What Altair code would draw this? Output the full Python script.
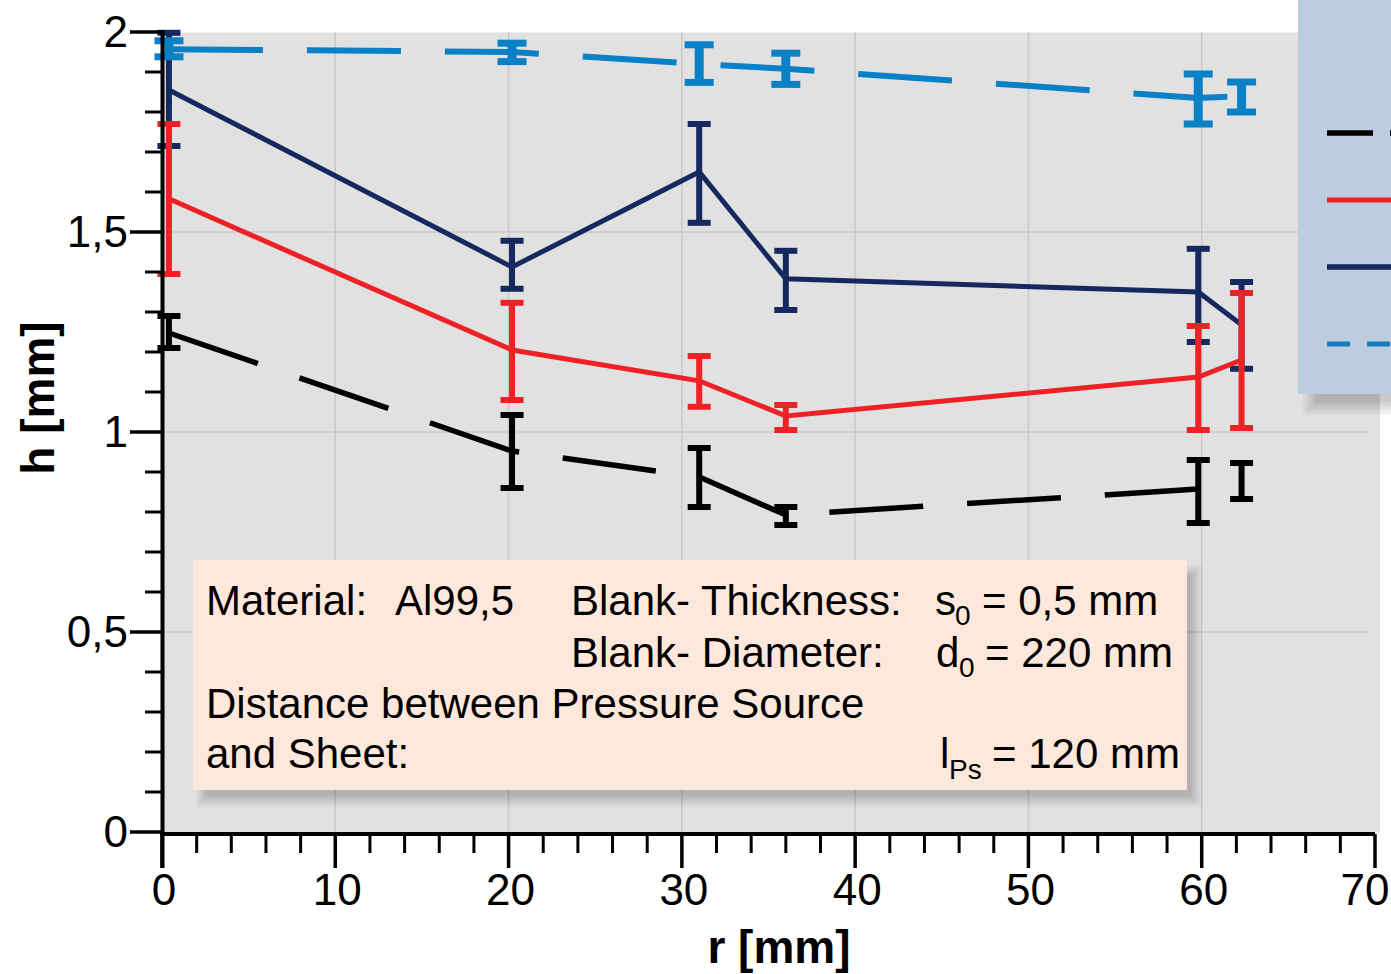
import altair as alt
import pandas as pd

# ---------------- data ----------------
r_vals = [0.4, 20.2, 31.0, 36.0, 59.8, 62.3]

black_h = [1.2475, 0.9525, 0.8875, 0.7925, 0.8575, 0.8775]
black_lo = [1.21, 0.86, 0.8125, 0.7675, 0.7725, 0.8325]
black_hi = [1.29, 1.0425, 0.96, 0.8125, 0.93, 0.9225]

red_h = [1.583, 1.205, 1.128, 1.04, 1.1375, 1.18]
red_lo = [1.395, 1.08, 1.063, 1.005, 1.005, 1.01]
red_hi = [1.77, 1.323, 1.19, 1.0675, 1.265, 1.3475]

navy_h = [1.855, 1.4125, 1.65, 1.383, 1.35, 1.268]
navy_lo = [1.715, 1.358, 1.523, 1.305, 1.225, 1.158]
navy_hi = [1.998, 1.478, 1.77, 1.453, 1.458, 1.375]

blue_h = [1.957, 1.95, 1.92, 1.908, 1.835, 1.84]
blue_lo = [1.938, 1.926, 1.874, 1.869, 1.77, 1.80]
blue_hi = [1.978, 1.972, 1.968, 1.947, 1.895, 1.875]

x_major = [0, 10, 20, 30, 40, 50, 60, 70]
x_labels = ["0", "10", "20", "30", "40", "50", "60", "70"]
x_minor = [v for v in range(2, 70, 2) if v % 10 != 0]
y_major = [0, 0.5, 1, 1.5, 2]
y_labels = ["0", "0,5", "1", "1,5", "2"]
y_minor = [round(i * 0.1, 1) for i in range(1, 20) if i % 5 != 0]
x_grid = [10, 20, 30, 40, 50, 60]
y_grid = [0.5, 1, 1.5]

x_title = "r [mm]"
y_title = "h [mm]"

note_main = [
    "Material:", "Al99,5", "Blank- Thickness:", "s", "= 0,5 mm",
    "Blank- Diameter:", "d", "= 220 mm",
    "Distance between Pressure Source", "and Sheet:", "l", "= 120 mm",
]
note_sub = ["0", "0", "Ps"]

# ---------------- layout constants ----------------
W, H = 1213, 800
FONT = "Liberation Sans"
XS = alt.Scale(domain=[0, 70], nice=False, zero=False)
YS = alt.Scale(domain=[0, 2], nice=False, zero=False)

one = pd.DataFrame({"k": [0]})


def X(field):
    return alt.X(field, scale=XS, axis=None)


def Y(field):
    return alt.Y(field, scale=YS, axis=None)


def series_df(h, lo, hi):
    return pd.DataFrame({"r": r_vals, "h": h, "lo": lo, "hi": hi})


def caps_df(lo, hi):
    return pd.DataFrame({"r": r_vals + r_vals, "c": lo + hi})


def rect(x0, y0, x1, y1, color, opacity=1.0):
    return alt.Chart(one).mark_rect(color=color, opacity=opacity).encode(
        x=alt.value(x0), x2=alt.value(x1), y=alt.value(y0), y2=alt.value(y1)
    )


def shadow(x0, y0, x1, y1, dx, dy, blur, n=8, alpha=0.028):
    layers = []
    for i in range(n):
        e = blur * (i / (n - 1) - 0.5)
        layers.append(rect(x0 + dx - e, y0 + dy - e, x1 + dx + e, y1 + dy + e, "#000000", alpha))
    return layers


def text(s, x, y, size=42, **kw):
    return alt.Chart(one).mark_text(
        text=s, align="left", baseline="alphabetic", font=FONT, fontSize=size, color="#000000", **kw
    ).encode(x=alt.value(x), y=alt.value(y))


# ---------------- background extension & grid ----------------
bg_ext = rect(W, 0, W + 5, H, "#E1E1E1")
grid_x = alt.Chart(pd.DataFrame({"r": x_grid})).mark_rule(color="#C9C9C9", strokeWidth=1.5).encode(
    x=X("r:Q"), y=alt.value(0), y2=alt.value(H)
)
grid_y = alt.Chart(pd.DataFrame({"h": y_grid})).mark_rule(color="#C9C9C9", strokeWidth=1.5).encode(
    y=Y("h:Q"), x=alt.value(0), x2=alt.value(W - 6)
)

# ---------------- axes (drawn from the scales) ----------------
xdf = pd.DataFrame({"r": x_major, "lab": x_labels})
ydf = pd.DataFrame({"h": y_major, "lab": y_labels})

x_ticks = alt.Chart(xdf).mark_rule(color="#000000", strokeWidth=3.5).encode(
    x=X("r:Q"), y=alt.value(H + 2), y2=alt.value(H + 36)
)
y_ticks = alt.Chart(ydf).mark_rule(color="#000000", strokeWidth=3.5).encode(
    y=Y("h:Q"), x=alt.value(-32), x2=alt.value(0)
)
minor_x = alt.Chart(pd.DataFrame({"r": x_minor})).mark_rule(color="#000000", strokeWidth=3).encode(
    x=X("r:Q"), y=alt.value(H + 2), y2=alt.value(H + 21)
)
minor_y = alt.Chart(pd.DataFrame({"h": y_minor})).mark_rule(color="#000000", strokeWidth=3).encode(
    y=Y("h:Q"), x=alt.value(-17), x2=alt.value(0)
)
x_dom = alt.Chart(one).mark_rule(color="#000000", strokeWidth=4).encode(
    x=alt.value(-2), x2=alt.value(W), y=alt.value(H + 2)
)
y_dom = alt.Chart(one).mark_rule(color="#000000", strokeWidth=4).encode(
    x=alt.value(0.5), y=alt.value(-2), y2=alt.value(H + 36)
)
x_lab = alt.Chart(xdf.iloc[:-1]).mark_text(
    font=FONT, fontSize=44, color="#000000", align="center", baseline="alphabetic", dx=2
).encode(x=X("r:Q"), y=alt.value(H + 73), text="lab:N")
x_lab_last = alt.Chart(xdf.iloc[-1:]).mark_text(
    font=FONT, fontSize=44, color="#000000", align="center", baseline="alphabetic", dx=-10
).encode(x=X("r:Q"), y=alt.value(H + 73), text="lab:N")
y_lab = alt.Chart(ydf).mark_text(
    font=FONT, fontSize=44, color="#000000", align="right", baseline="alphabetic", dy=15
).encode(y=Y("h:Q"), x=alt.value(-34), text="lab:N")
x_ttl = alt.Chart(one).mark_text(
    text=x_title, font=FONT, fontSize=46, fontWeight="bold", color="#000000",
    align="center", baseline="alphabetic"
).encode(x=alt.value(617), y=alt.value(931))
y_ttl = alt.Chart(one).mark_text(
    text=y_title, font=FONT, fontSize=46, fontWeight="bold", color="#000000",
    align="center", baseline="alphabetic", angle=270
).encode(x=alt.value(-108), y=alt.value(366))

# ---------------- annotation box ----------------
ax0, ay0, ax1, ay1 = 31, 528, 1025, 758
note_layers = shadow(ax0, ay0, ax1, ay1, 9, 11, 12) + [rect(ax0, ay0, ax1, ay1, "#FDE8DB")]
note_layers += [
    text(note_main[0], 44, 583), text(note_main[1], 233, 583), text(note_main[2], 409, 583),
    text(note_main[3], 773, 583), text(note_sub[0], 793, 593, 28), text(note_main[4], 820, 583),
    text(note_main[5], 409, 635), text(note_main[6], 774, 635), text(note_sub[1], 797, 645, 28),
    text(note_main[7], 823, 635),
    text(note_main[8], 44, 686), text(note_main[9], 44, 736),
    text(note_main[10], 778, 736), text(note_sub[2], 787, 747, 28), text(note_main[11], 830, 736),
]


# ---------------- series ----------------
def series_layers(h, lo, hi, color, lw, dash, bw, cap_size, cap_th):
    df = series_df(h, lo, hi)
    line_kw = dict(color=color, strokeWidth=lw, strokeCap="butt", strokeJoin="miter")
    if dash:
        line_kw["strokeDash"] = dash
    line = alt.Chart(df).mark_line(**line_kw).encode(x=X("r:Q"), y=Y("h:Q"))
    bar = alt.Chart(df).mark_rule(color=color, strokeWidth=bw).encode(
        x=X("r:Q"), y=Y("lo:Q"), y2="hi:Q"
    )
    caps = alt.Chart(caps_df(lo, hi)).mark_tick(
        color=color, orient="horizontal", size=cap_size, thickness=cap_th, opacity=1
    ).encode(x=X("r:Q"), y=Y("c:Q"))
    return [line, bar, caps]


navy_l = series_layers(navy_h, navy_lo, navy_hi, "#15295E", 5, None, 6, 23, 6)
red_l = series_layers(red_h, red_lo, red_hi, "#EE2226", 5, None, 6, 23, 6)
blue_l = series_layers(blue_h, blue_lo, blue_hi, "#0A80C6", 6, [94, 44], 9, 29, 7)
black_l = series_layers(black_h, black_lo, black_hi, "#000000", 5.5, [94, 44], 6, 23, 6)

# ---------------- legend box (cut off at the right edge) ----------------
lx0, ly0, lx1, ly1 = 1136, -42, 1250, 362
legend_layers = shadow(lx0, ly0, lx1, ly1, 12, 14, 14) + [rect(lx0, ly0, lx1, ly1, "#BDCCDE")]


def leg_line(y, color, width, dash=None):
    kw = dict(color=color, strokeWidth=width, strokeCap="butt")
    if dash:
        kw["strokeDash"] = dash
    return alt.Chart(one).mark_rule(**kw).encode(
        x=alt.value(1165), x2=alt.value(1250), y=alt.value(y)
    )


legend_layers += [
    leg_line(101, "#000000", 5.5, [46, 17]),
    leg_line(168, "#EE2226", 5),
    leg_line(235, "#15295E", 5.5),
    leg_line(312, "#1A7CC4", 5, [23, 17]),
]

chart = alt.layer(
    bg_ext, grid_x, grid_y,
    *note_layers,
    *navy_l, *red_l, *blue_l, *black_l,
    minor_x, minor_y, x_ticks, y_ticks, x_dom, y_dom, x_lab, x_lab_last, y_lab, x_ttl, y_ttl,
    *legend_layers,
).properties(
    width=W, height=H,
    padding={"left": 162, "top": 32, "right": 16, "bottom": 142},
    autosize=alt.AutoSizeParams(type="none"),
).configure_view(fill="#E1E1E1", stroke="transparent")

chart.save("out.html", embed_options={"renderer": "svg", "actions": False})
